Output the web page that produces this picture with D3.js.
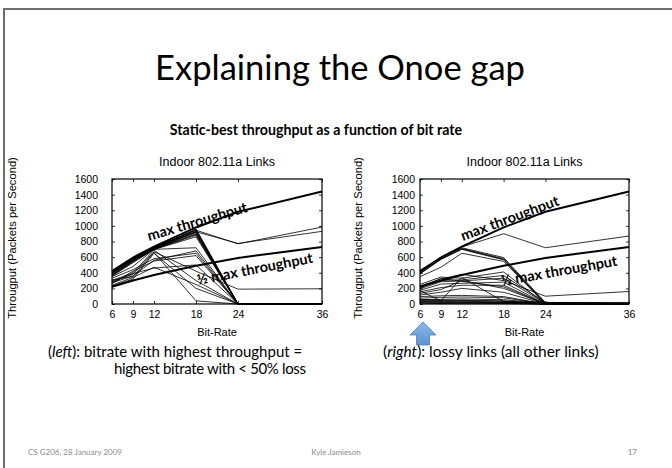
<!DOCTYPE html>
<html>
<head>
<meta charset="utf-8">
<script src="https://cdn.jsdelivr.net/npm/d3@7"></script>
<style>
  body { margin: 0; background: #fff; }
  svg { display: block; }
</style>
</head>
<body>
<div id="slide"></div>
<script>
// bit rates on the x axis (Mbps)
const bitRates = [6, 9, 12, 18, 24, 36];
const yTicks = [0, 200, 400, 600, 800, 1000, 1200, 1400, 1600];

// the two reference curves, same in both panels
const maxThroughput = [420, 595, 735, 980, 1180, 1440];
const halfMaxThroughput = [220, 300, 370, 490, 590, 730];

// left panel: links where best bitrate = highest bitrate with < 50% loss
const leftLinks = [
    [410, 580, 720, 960, 0, 0],
    [405, 575, 718, 952, 0, 0],
    [400, 570, 715, 945, 0, 0],
    [395, 565, 712, 930, 0, 0],
    [390, 560, 710, 922, 0, 0],
    [385, 555, 708, 915, 0, 0],
    [375, 548, 705, 900, 0, 0],
    [370, 545, 702, 890, 0, 0],
    [365, 540, 700, 880, 0, 0],
    [355, 530, 698, 860, 0, 0],
    [420, 590, 725, 945, 770, 985],
    [415, 585, 720, 925, 775, 930],
    [350, 480, 700, 720, 0, 0],
    [300, 400, 690, 300, 0, 0],
    [290, 380, 670, 420, 190, 195],
    [270, 360, 560, 680, 0, 0],
    [260, 420, 550, 620, 0, 0],
    [240, 340, 470, 250, 0, 0],
    [310, 350, 660, 40, 0, 0],
    [330, 440, 580, 650, 0, 0],
    [280, 390, 460, 500, 0, 0],
    [230, 320, 650, 200, 0, 0]
];

// right panel: lossy links (all other links)
const rightLinks = [
    [410, 600, 730, 900, 720, 870],
    [405, 590, 720, 595, 20, 0],
    [395, 580, 710, 580, 10, 0],
    [390, 575, 705, 572, 5, 0],
    [385, 570, 700, 565, 0, 0],
    [350, 470, 650, 545, 0, 0],
    [250, 345, 330, 410, 0, 0],
    [230, 320, 380, 300, 100, 160],
    [215, 300, 310, 365, 20, 10],
    [195, 285, 295, 330, 10, 0],
    [175, 255, 265, 280, 0, 0],
    [155, 210, 240, 240, 0, 0],
    [135, 185, 300, 200, 0, 0],
    [115, 150, 200, 150, 0, 0],
    [170, 40, 340, 30, 0, 0],
    [95, 105, 110, 95, 0, 0],
    [75, 85, 90, 80, 0, 0],
    [55, 60, 65, 55, 10, 5],
    [45, 45, 50, 40, 0, 0],
    [35, 30, 35, 25, 0, 0],
    [25, 20, 25, 15, 0, 0],
    [15, 10, 15, 8, 0, 0],
    [60, 50, 45, 35, 20, 20],
    [200, 330, 290, 220, 0, 0],
    [30, 25, 20, 20, 15, 10],
    [10, 5, 5, 5, 0, 0]
];

const W = 672, H = 468;
const calibri = "Lato, 'Open Sans', sans-serif";
const helv = "'Liberation Sans', Arial, sans-serif";

const svg = d3.select("#slide").append("svg")
    .attr("width", W)
    .attr("height", H);

svg.append("rect").attr("width", W).attr("height", H).attr("fill", "#fff");

// slide frame
svg.append("path")
    .attr("d", `M4,${H} L4,9 L${W},9`)
    .attr("fill", "none")
    .attr("stroke", "#6e6e6e")
    .attr("stroke-width", 2);

// title
svg.append("text")
    .attr("x", 340).attr("y", 80)
    .attr("text-anchor", "middle")
    .attr("font-family", calibri)
    .attr("font-size", 34.5)
    .attr("fill", "#000")
    .text("Explaining the Onoe gap");

svg.append("text")
    .attr("x", 316).attr("y", 135)
    .attr("text-anchor", "middle")
    .attr("font-family", calibri)
    .attr("font-weight", "bold")
    .attr("font-size", 14.2)
    .text("Static-best throughput as a function of bit rate");

function drawPanel(opts) {
    const x = d3.scaleLinear().domain([6, 36]).range([opts.left, opts.right]);
    const y = d3.scaleLinear().domain([0, 1600]).range([opts.bottom, opts.top]);
    const g = svg.append("g");

    const line = d3.line()
        .x((d, i) => x(bitRates[i]))
        .y(d => y(d));

    // link curves
    g.selectAll(".link")
        .data(opts.links)
        .enter()
        .append("path")
        .attr("class", "link")
        .attr("fill", "none")
        .attr("stroke", "#000")
        .attr("stroke-width", 0.8)
        .attr("d", line);

    [maxThroughput, halfMaxThroughput].forEach(s => {
        g.append("path")
            .attr("fill", "none")
            .attr("stroke", "#000")
            .attr("stroke-width", 2)
            .attr("d", line(s));
    });

    // frame + inside ticks (gnuplot style)
    const axL = d3.axisLeft(y).tickValues(yTicks).tickSize(-3).tickPadding(opts.yPad).tickFormat(d3.format("d"));
    const axB = d3.axisBottom(x).tickValues(bitRates).tickSize(-3).tickPadding(7);
    const axT = d3.axisTop(x).tickValues(bitRates).tickSize(-3).tickFormat("");
    const axR = d3.axisRight(y).tickValues(yTicks).tickSize(-3).tickFormat("");

    const styleAxis = sel => {
        sel.select(".domain").remove();
        sel.selectAll(".tick line").attr("stroke", "#000").attr("stroke-width", 0.8);
        sel.selectAll("text").attr("font-family", helv).attr("font-size", 10.5).attr("fill", "#000");
    };
    g.append("g").attr("transform", `translate(${opts.left},0)`).call(axL).call(styleAxis);
    g.append("g").attr("transform", `translate(0,${opts.bottom})`).call(axB).call(styleAxis);
    g.append("g").attr("transform", `translate(0,${opts.top})`).call(axT).call(styleAxis);
    g.append("g").attr("transform", `translate(${opts.right},0)`).call(axR).call(styleAxis);

    g.append("rect")
        .attr("x", opts.left).attr("y", opts.top)
        .attr("width", opts.right - opts.left)
        .attr("height", opts.bottom - opts.top)
        .attr("fill", "none")
        .attr("stroke", "#000")
        .attr("stroke-width", 1.2);

    const cx = (opts.left + opts.right) / 2;
    g.append("text")
        .attr("x", cx).attr("y", opts.top - 13)
        .attr("text-anchor", "middle")
        .attr("font-family", helv).attr("font-size", 12.5)
        .text("Indoor 802.11a Links");

    g.append("text")
        .attr("x", cx).attr("y", opts.bottom + 32)
        .attr("text-anchor", "middle")
        .attr("font-family", helv).attr("font-size", 11)
        .text("Bit-Rate");

    g.append("text")
        .attr("transform", `translate(${opts.ylabelX},238) rotate(-90)`)
        .attr("text-anchor", "middle")
        .attr("font-family", helv).attr("font-size", 11.2)
        .text("Througput (Packets per Second)");

    // curve annotations
    opts.notes.forEach(n => {
        g.append("text")
            .attr("transform", `translate(${n.x},${n.y}) rotate(${n.rot})`)
            .attr("font-family", calibri)
            .attr("font-weight", "bold")
            .attr("font-size", 14.5)
            .text(n.text);
    });
}

drawPanel({
    left: 112, right: 322, top: 179, bottom: 304,
    yPad: 14, ylabelX: 16,
    links: leftLinks,
    notes: [
        { x: 149, y: 241, rot: -16.5, text: "max throughput" },
        { x: 198, y: 285, rot: -11, text: "½ max throughput" }
    ]
});

drawPanel({
    left: 420, right: 629, top: 179, bottom: 304,
    yPad: 5, ylabelX: 362,
    links: rightLinks,
    notes: [
        { x: 463, y: 241, rot: -20.5, text: "max throughput" },
        { x: 502, y: 286, rot: -10, text: "½ max throughput" }
    ]
});

// blue arrow pointing at 6 Mbps
const grad = svg.append("defs").append("linearGradient")
    .attr("id", "arrowGrad").attr("x1", 0).attr("y1", 0).attr("x2", 0).attr("y2", 1);
grad.append("stop").attr("offset", "0%").attr("stop-color", "#8db8e8");
grad.append("stop").attr("offset", "100%").attr("stop-color", "#5b93d3");

svg.append("path")
    .attr("d", "M423,322 L436,335 L429.5,335 L429.5,345 L416.5,345 L416.5,335 L410,335 Z")
    .attr("fill", "url(#arrowGrad)")
    .attr("stroke", "#4a7ebb")
    .attr("stroke-width", 0.8);

// captions
const capSize = 15;
const cap = svg.append("text")
    .attr("x", 48).attr("y", 357)
    .attr("font-family", calibri).attr("font-size", capSize);
cap.append("tspan").text("(");
cap.append("tspan").attr("font-style", "italic").text("left");
cap.append("tspan").text("): bitrate with highest throughput =");

svg.append("text")
    .attr("x", 306).attr("y", 374)
    .attr("text-anchor", "end")
    .attr("font-family", calibri).attr("font-size", capSize)
    .attr("textLength", 192).attr("lengthAdjust", "spacing")
    .text("highest bitrate with < 50% loss");

const cap2 = svg.append("text")
    .attr("x", 383).attr("y", 357)
    .attr("font-family", calibri).attr("font-size", 15.5);
cap2.append("tspan").text("(");
cap2.append("tspan").attr("font-style", "italic").text("right");
cap2.append("tspan").text("): lossy links (all other links)");

// footer
const foot = [
    { x: 28, anchor: "start", text: "CS G206, 28 January 2009" },
    { x: 336, anchor: "middle", text: "Kyle Jamieson" },
    { x: 637, anchor: "end", text: "17" }
];
svg.selectAll(".foot")
    .data(foot)
    .enter()
    .append("text")
    .attr("class", "foot")
    .attr("x", d => d.x).attr("y", 455)
    .attr("text-anchor", d => d.anchor)
    .attr("font-family", calibri).attr("font-size", 8)
    .attr("fill", "#8c8c8c")
    .text(d => d.text);
</script>
</body>
</html>
